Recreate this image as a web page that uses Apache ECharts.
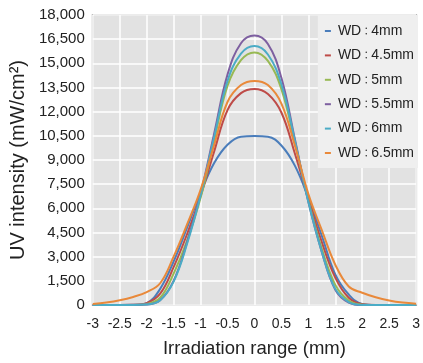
<!DOCTYPE html>
<html>
<head>
<meta charset="utf-8">
<script src="https://cdn.jsdelivr.net/npm/echarts@6/dist/echarts.min.js"></script>
<style>
html,body{margin:0;padding:0;background:#fff;}
#chart{width:423px;height:363px;}
</style>
</head>
<body>
<div id="chart"></div>
<script>
// Irradiation range (mm)
var xs = [-3,-2.75,-2.5,-2.25,-2,-1.75,-1.5,-1.25,-1,-0.75,-0.5,-0.25,0,0.25,0.5,0.75,1,1.25,1.5,1.75,2,2.25,2.5,2.75,3];
var seriesNames = ['WD：4mm','WD：4.5mm','WD：5mm','WD：5.5mm','WD：6mm','WD：6.5mm'];
var wd4   = [0,0,0,10,120,1000,2700,4800,6950,8800,9950,10450,10490,10450,9900,8650,6650,4300,1900,650,60,0,0,0,0];
var wd4_5 = [0,0,0,10,120,700,2350,4400,6750,9500,12100,13150,13410,13100,11950,9400,6600,3900,1700,450,50,0,0,0,0];
var wd5   = [0,0,0,0,60,450,1950,4000,6650,10200,13600,15200,15680,15150,13400,10100,6500,3500,1250,280,20,0,0,0,0];
var wd5_5 = [0,0,0,0,30,300,1500,3900,6900,10600,14300,16250,16730,16200,14100,10300,6400,3300,950,150,0,0,0,0,0];
var wd6   = [0,0,0,0,30,300,1450,3800,6800,10400,13900,15600,16070,15550,13700,10200,6400,3300,1000,180,0,0,0,0,0];
var wd6_5 = [60,150,290,500,800,1350,3000,5000,7150,9900,12600,13650,13910,13650,12500,9900,6900,4650,2500,1150,760,480,280,150,80];
var allValues = [wd4, wd4_5, wd5, wd5_5, wd6, wd6_5];
var colors = ['#4a7dbb','#be4b48','#98b954','#7d5fa0','#4bacc6','#e9893a'];

function addCommas(v){ return String(v).replace(/\B(?=(\d{3})+(?!\d))/g, ','); }

var chart = echarts.init(document.getElementById('chart'));
var series = allValues.map(function(vals, i){
  return {
    name: seriesNames[i],
    type: 'line',
    smooth: 0.4,
    showSymbol: false,
    symbol: 'none',
    lineStyle: { width: 2, color: colors[i] },
    itemStyle: { color: colors[i] },
    data: xs.map(function(x, j){ return [x, vals[j]]; })
  };
});

chart.setOption({
  animation: false,
  textStyle: { fontFamily: 'Liberation Sans, Arial, sans-serif' },
  grid: {
    left: 91, top: 15, right: 5, bottom: 57,
    show: true, backgroundColor: '#e2e2e2', borderColor: '#b3b3b3', borderWidth: 2
  },
  legend: {
    orient: 'vertical', right: 5, top: 15,
    backgroundColor: '#efefef',
    padding: [8, 4, 7, 7],
    itemGap: 8.4,
    itemWidth: 6, itemHeight: 2,
    icon: 'rect',
    formatter: function(name){
      var p = name.split('：');
      return '{a|' + p[0] + '}{c|：}{a|' + p[1] + '}';
    },
    textStyle: {
      fontSize: 14, color: '#222', lineHeight: 16, padding: [0,0,0,2],
      rich: {
        a: { fontSize: 14, color: '#222', fontFamily: 'Liberation Sans, Arial, sans-serif', lineHeight: 16 },
        c: { fontSize: 10, color: '#222', fontFamily: 'Noto Sans CJK JP, sans-serif', lineHeight: 16 }
      }
    },
    data: seriesNames
  },
  xAxis: {
    type: 'value', min: -3, max: 3, interval: 0.5,
    name: 'Irradiation range (mm)', nameLocation: 'middle', nameGap: 34,
    nameTextStyle: { fontSize: 18.5, color: '#222' },
    axisLine: { show: false }, axisTick: { show: false },
    axisLabel: { fontSize: 14, color: '#222', margin: 12 },
    splitLine: { show: true, lineStyle: { color: '#ffffff', width: 1.5 } }
  },
  yAxis: {
    type: 'value', min: 0, max: 18000, interval: 1500,
    name: 'UV intensity (mW/cm²)', nameLocation: 'middle', nameGap: 63,
    nameTextStyle: { fontSize: 20, color: '#222' },
    axisLine: { show: false }, axisTick: { show: false },
    axisLabel: { fontSize: 15, color: '#222', margin: 8, formatter: function(v){ return addCommas(v); } },
    splitLine: { show: true, lineStyle: { color: '#ffffff', width: 1.5 } }
  },
  color: colors,
  series: series
});
</script>
</body>
</html>
